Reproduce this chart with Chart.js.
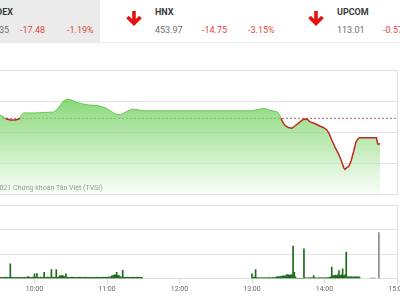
<!DOCTYPE html>
<html>
<head>
<meta charset="utf-8">
<script src="https://cdn.jsdelivr.net/npm/chart.js@4.4.0/dist/chart.umd.min.js"></script>
<style>
    body { margin: 0; width: 400px; height: 300px; overflow: hidden; position: relative; background: #fff; font-family: Roboto, sans-serif; }
    .t { position: absolute; font-size: 9px; line-height: 11px; white-space: nowrap; color: #6d6d6d; }
    .b { font-weight: bold; color: #3a3a3a; }
    .r { color: #e0473e; }
    #hdrBox { position: absolute; left: 0; top: 0; width: 100px; height: 43px; background: #ebebeb; }
    #hdrLine { position: absolute; left: 100px; top: 42px; width: 300px; height: 1px; background: #ececec; }
    .arrow { position: absolute; top: 10px; width: 18px; height: 16px; }
    #priceWrap { position: absolute; left: -48px; top: 66px; width: 455px; height: 130px; }
    #volWrap { position: absolute; left: -48px; top: 201px; width: 455px; height: 93px; }
    #credit { position: absolute; left: -10px; top: 184px; font-size: 7px; line-height: 8px; color: #9a9a9a; white-space: nowrap; }
</style>
</head>
<body>
<div id="hdrBox"></div>
<div id="hdrLine"></div>

<div class="t b" style="left:-60px;width:73px;text-align:right;top:7px;">VNINDEX</div>
<div class="t" style="left:-60px;width:69px;text-align:right;top:25px;">1,451.35</div>
<div class="t r" style="left:20px;top:25px;">-17.48</div>
<div class="t r" style="left:67px;top:25px;">-1.19%</div>

<svg class="arrow" style="left:125px" viewBox="0 0 18 16"><path d="M9 1 V13 M2.5 7 L9 13.5 L15.5 7" fill="none" stroke="#e3140f" stroke-width="3.6" stroke-linejoin="miter"/></svg>
<div class="t b" style="left:155px;top:7px;">HNX</div>
<div class="t" style="left:155px;top:25px;">453.97</div>
<div class="t r" style="left:202px;top:25px;">-14.75</div>
<div class="t r" style="left:248px;top:25px;">-3.15%</div>

<svg class="arrow" style="left:307px" viewBox="0 0 18 16"><path d="M9 1 V13 M2.5 7 L9 13.5 L15.5 7" fill="none" stroke="#e3140f" stroke-width="3.6" stroke-linejoin="miter"/></svg>
<div class="t b" style="left:337px;top:7px;">UPCOM</div>
<div class="t" style="left:337px;top:25px;">113.01</div>
<div class="t r" style="left:383px;top:25px;">-0.57%</div>

<div id="priceWrap"><canvas id="priceChart"></canvas></div>
<div id="credit">©2021 Chứng khoán Tân Việt (TVSI)</div>
<div id="volWrap"><canvas id="volChart"></canvas></div>

<script>
// DATA
const refValue = 1468.83;

const priceTimes = ["09:15", "09:20", "09:25", "09:31", "09:34", "09:36", "09:37", "09:40", "09:44", "09:47",
    "09:48", "09:49", "09:51", "10:00", "10:08", "10:16", "10:19", "10:21", "10:24", "10:27",
    "10:30", "10:34", "10:40", "10:45", "10:51", "10:55", "10:59", "11:03", "11:07", "11:11",
    "11:14", "11:17", "11:21", "11:25", "11:29", "13:00", "13:05", "13:10", "13:14", "13:18",
    "13:21", "13:23", "13:24", "13:25", "13:27", "13:30", "13:33", "13:36", "13:39", "13:42",
    "13:44", "13:46", "13:48", "13:52", "13:56", "13:59", "14:02", "14:04", "14:06", "14:09",
    "14:12", "14:14", "14:16", "14:17", "14:19", "14:20", "14:22", "14:24", "14:26", "14:28",
    "14:29", "14:43", "14:44", "14:45", "14:46"];
const priceValues = [1470.5, 1471.5, 1471.0, 1471.0, 1470.0, 1468.83, 1468.4, 1467.7, 1467.7, 1468.4,
    1468.83, 1471.0, 1472.3, 1472.3, 1472.6, 1472.9, 1474.8, 1476.8, 1480.0, 1481.3,
    1480.8, 1479.4, 1478.1, 1477.4, 1477.2, 1476.5, 1475.5, 1473.5, 1471.6, 1471.0,
    1472.3, 1473.5, 1474.8, 1474.5, 1473.7, 1473.7, 1474.6, 1475.2, 1474.2, 1473.5,
    1472.9, 1471.0, 1468.83, 1467.1, 1464.5, 1462.9, 1462.4, 1464.2, 1466.1, 1467.9,
    1468.4, 1468.1, 1466.5, 1465.5, 1463.9, 1462.9, 1461.3, 1458.7, 1454.8, 1449.7,
    1445.2, 1441.3, 1436.8, 1435.9, 1437.4, 1437.6, 1441.3, 1447.1, 1453.5, 1455.8,
    1456.3, 1456.3, 1452.3, 1452.3, 1452.3];

// volume per minute
const volMorningStart = "09:15";
const volMorning = [1.5, 0.2, 0.15, 0.12, 0.12,
    0.1, 0.15, 0.12, 0.1, 0.1, 0.12, 0.1, 0.1, 0.12, 0.1,
    0.1, 0.1, 0.1, 0.08, 0.1, 0.1, 0.12, 0.1, 0.1, 0.1,
    1.2, 0.1, 0.08, 0.1, 0.08, 0.1, 0.08, 0.1, 0.1, 0.08,
    0.1, 0.08, 0.1, 0.1, 0.12, 0.16, 0.1, 0.08, 0.1, 0.12,
    0.38, 0.1, 0.41, 0.1, 0.08, 0.12, 0.1, 0.1, 0.52, 0.1,
    0.1, 0.12, 0.1, 0.1, 0.74, 0.1, 0.12, 0.1, 0.74, 0.1,
    0.12, 0.25, 0.22, 0.25, 0.2, 0.15, 0.38, 0.12, 0.1, 0.1,
    0.1, 0.12, 0.1, 0.1, 0.11, 0.1, 0.1, 0.12, 0.1, 0.1,
    0.1, 0.1, 0.12, 0.1, 0.1, 0.1, 0.11, 0.1, 0.1, 0.1,
    0.1, 0.12, 0.1, 0.1, 0.1, 0.1, 0.12, 0.1, 0.1, 0.12,
    0.1, 0.12, 0.12, 0.15, 0.22, 0.25, 0.3, 0.28, 0.52, 0.25,
    0.25, 0.15, 0.12, 0.68, 0.12, 0.1, 0.1, 0.12, 0.1, 0.1,
    0.1, 0.12, 0.1, 0.1, 0.1, 0.12, 0.1, 0.1, 0.1, 0.1];
const volAfternoonStart = "13:00";
const volAfternoon = [0.38, 0.1, 0.12, 0.74, 0.08, 0.07, 0.07, 0.06, 0.07, 0.07,
    0.07, 0.06, 0.07, 0.07, 0.08, 0.07, 0.07, 0.08, 0.07, 0.08,
    0.12, 0.14, 0.16, 0.15, 0.18, 0.2, 0.22, 0.2, 0.25, 0.33,
    0.3, 0.28, 0.3, 0.3, 2.65, 0.52, 0.15, 0, 0, 0,
    0, 0, 0, 2.43, 0.06, 0.06, 0.05, 0.06, 0.06, 0.06,
    0.06, 0.25, 0.06, 0.06, 0.05, 0.06, 0.06, 0.06, 0.07, 0.06,
    0.06, 0.07, 0.06, 0.08, 0.1, 0.12, 0.93, 0.25, 0.25, 0.28,
    0.25, 0.3, 0.66, 0.25, 0.3, 0.8, 0.25, 0.3, 2.16, 0.15,
    0.14, 0.15, 0.14, 0.14, 0.13, 0.14, 0.14, 0.15, 0.14, 0.12];
const volLateTimes = ["14:38", "14:39", "14:40", "14:41", "14:42", "14:45"];
const volLate = [0.04, 0.03, 0.04, 0.03, 0.04, 3.75];

// HELPERS
const toMin = s => { const [h, m] = s.split(":"); return +h * 60 + +m; };
const fmtTime = v => `${Math.floor(v / 60)}:${String(v % 60).padStart(2, "0")}`;

Chart.defaults.font.family = "Roboto";
Chart.defaults.animation = false;

const pricePts = priceTimes.map((t, i) => ({ x: toMin(t), y: priceValues[i] }));

const volPts = [];
volMorning.forEach((v, i) => volPts.push({ x: toMin(volMorningStart) + i, y: v }));
volAfternoon.forEach((v, i) => volPts.push({ x: toMin(volAfternoonStart) + i, y: v }));
volLateTimes.forEach((t, i) => volPts.push({ x: toMin(t), y: volLate[i] }));

function areaFill(ctx) {
    const { chart } = ctx;
    const { chartArea, scales } = chart;
    if (!chartArea) return "rgba(130,215,110,0.6)";
    const top = scales.y.getPixelForValue(1482);
    const g = chart.ctx.createLinearGradient(0, top, 0, chartArea.bottom);
    g.addColorStop(0, "rgba(105,205,85,0.8)");
    g.addColorStop(0.55, "rgba(150,222,135,0.55)");
    g.addColorStop(1, "rgba(235,250,232,0.4)");
    return g;
}

const isDown = c => Math.max(c.p0.parsed.y, c.p1.parsed.y) <= refValue + 0.01;

// PRICE CHART
new Chart(document.getElementById("priceChart"), {
    type: "line",
    data: {
        datasets: [{
            // outline, red under the reference
            data: pricePts,
            fill: false,
            borderWidth: 1,
            pointRadius: 0,
            segment: {
                borderColor: c => isDown(c) ? "#bf2b20" : "rgba(95,195,75,0.9)",
                borderWidth: c => isDown(c) ? 1.5 : 1
            },
            order: 0
        }, {
            // area under the price
            data: pricePts,
            fill: "start",
            backgroundColor: areaFill,
            borderWidth: 0,
            borderColor: "rgba(0,0,0,0)",
            pointRadius: 0,
            order: 1
        }, {
            data: [{ x: 540, y: refValue }, { x: 900, y: refValue }],
            borderColor: "rgba(140,60,95,0.8)",
            borderDash: [2, 2],
            borderWidth: 1,
            pointRadius: 0,
            fill: false,
            order: 2
        }]
    },
    options: {
        responsive: true,
        maintainAspectRatio: false,
        layout: { padding: { left: 10, right: 10, top: 4, bottom: 2 } },
        plugins: { legend: { display: false }, tooltip: { enabled: false } },
        scales: {
            x: { type: "linear", min: 540, max: 900, display: false },
            y: {
                min: 1420, max: 1500,
                ticks: { display: false, stepSize: 20 },
                grid: { color: "#e3e3e3", drawTicks: false },
                border: { display: false }
            },
            yR: {
                position: "right",
                ticks: { display: false },
                grid: { display: false, drawTicks: false },
                border: { color: "#dedede" }
            }
        }
    }
});

// VOLUME CHART
new Chart(document.getElementById("volChart"), {
    type: "bar",
    data: {
        datasets: [{
            data: volPts,
            barThickness: 1,
            backgroundColor: c => (c.raw && c.raw.x >= 870) ? "#8c8c8c" : "#1a6a1a"
        }]
    },
    options: {
        responsive: true,
        maintainAspectRatio: false,
        layout: { padding: { left: 10, right: 10, top: 4, bottom: 0 } },
        plugins: { legend: { display: false }, tooltip: { enabled: false } },
        scales: {
            x: {
                type: "linear", min: 540, max: 900, offset: false,
                ticks: { stepSize: 60, autoSkip: false, maxRotation: 0, padding: 1, color: "#666", font: { size: 7 }, callback: v => fmtTime(v) },
                grid: { drawOnChartArea: false, drawTicks: true, tickLength: 5, color: "#d6d6d6", offset: false },
                border: { color: "#dedede" }
            },
            y: {
                min: 0, max: 6,
                ticks: { display: false, stepSize: 2 },
                grid: { color: "#e3e3e3", drawTicks: false },
                border: { display: false }
            },
            yR: {
                position: "right",
                ticks: { display: false },
                grid: { display: false, drawTicks: false },
                border: { color: "#dedede" }
            }
        }
    }
});
</script>
</body>
</html>
